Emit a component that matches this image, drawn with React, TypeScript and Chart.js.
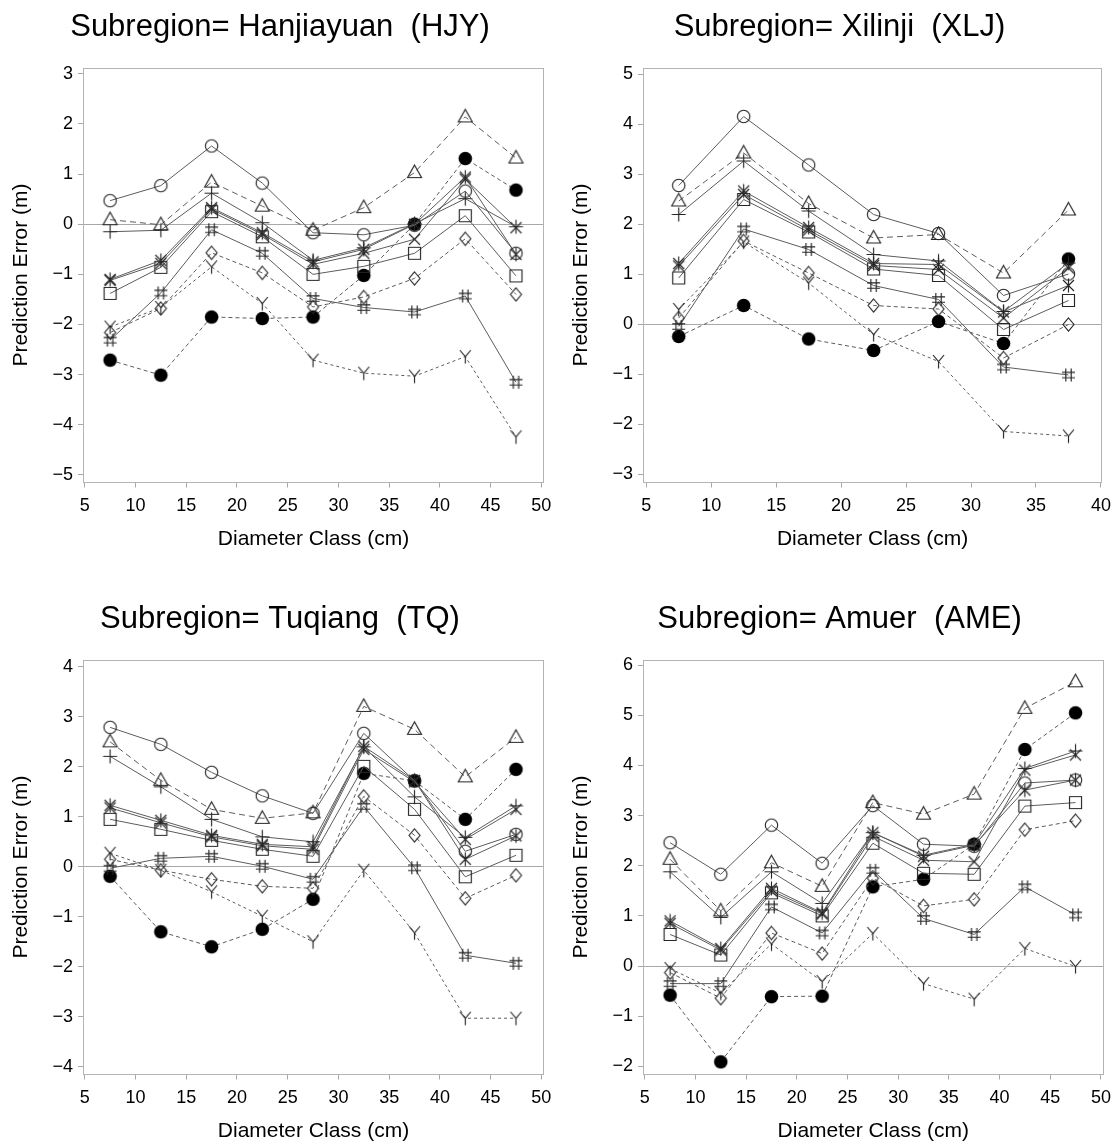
import React, { useEffect, useRef } from 'react';
import { Chart, registerables } from 'chart.js';

Chart.register(...registerables);

const FONT = "'Liberation Sans', Arial, Helvetica, sans-serif";
const LINE = '#5c5c5c';
const MARK = '#262626';
const FRAME = '#b4b4b4';
const REF = '#a8a8a8';

// ---------- categories / ticks ----------
const diameters9 = [7.5, 12.5, 17.5, 22.5, 27.5, 32.5, 37.5, 42.5, 47.5];
const diameters7 = [7.5, 12.5, 17.5, 22.5, 27.5, 32.5, 37.5];
const xTicks50 = [5, 10, 15, 20, 25, 30, 35, 40, 45, 50];
const xTicks40 = [5, 10, 15, 20, 25, 30, 35, 40];
const yTicksHJY = [-5, -4, -3, -2, -1, 0, 1, 2, 3];
const yTicksXLJ = [-3, -2, -1, 0, 1, 2, 3, 4, 5];
const yTicksTQ = [-4, -3, -2, -1, 0, 1, 2, 3, 4];
const yTicksAME = [-2, -1, 0, 1, 2, 3, 4, 5, 6];

// ---------- Hanjiayuan (HJY) ----------
const hjyCircle = [0.47, 0.77, 1.56, 0.82, -0.17, -0.21, -0.02, 0.66, -0.58];
const hjyTriangle = [0.09, -0.01, 0.84, 0.36, -0.12, 0.33, 1.03, 2.14, 1.32];
const hjyPlus = [-0.15, -0.12, 0.62, 0.03, -0.72, -0.47, 0.01, 0.51, -0.05];
const hjyStar = [-1.1, -0.72, 0.33, -0.17, -0.75, -0.5, 0.0, 0.94, -0.6];
const hjyX = [-1.12, -0.78, 0.3, -0.2, -0.8, -0.58, -0.3, 0.9, -0.07];
const hjySquare = [-1.38, -0.86, 0.25, -0.25, -1.0, -0.84, -0.58, 0.17, -1.03];
const hjyDiamond = [-2.16, -1.68, -0.57, -0.97, -1.65, -1.45, -1.08, -0.29, -1.4];
const hjyHash = [-2.31, -1.37, -0.11, -0.58, -1.48, -1.66, -1.75, -1.43, -3.15];
const hjyDot = [-2.71, -3.01, -1.85, -1.88, -1.85, -1.02, 0.0, 1.31, 0.68];
const hjyY = [-2.05, -1.66, -0.85, -1.58, -2.71, -2.97, -3.03, -2.64, -4.24];

// ---------- Xilinji (XLJ) ----------
const xljCircle = [2.77, 4.15, 3.18, 2.19, 1.81, 0.57, 1.0];
const xljTriangle = [2.46, 3.42, 2.41, 1.72, 1.79, 1.02, 2.28];
const xljPlus = [2.19, 3.26, 2.26, 1.39, 1.26, 0.25, 1.22];
const xljStar = [1.21, 2.66, 1.93, 1.21, 1.19, 0.24, 0.77];
const xljX = [1.16, 2.59, 1.88, 1.17, 1.09, 0.12, 1.12];
const xljSquare = [0.92, 2.49, 1.84, 1.1, 0.97, -0.11, 0.47];
const xljDiamond = [0.12, 1.66, 1.02, 0.37, 0.3, -0.68, -0.01];
const xljHash = [-0.05, 1.9, 1.49, 0.77, 0.49, -0.86, -1.02];
const xljDot = [-0.25, 0.37, -0.3, -0.53, 0.05, -0.39, 1.3];
const xljY = [0.29, 1.64, 0.82, -0.21, -0.75, -2.15, -2.24];

// ---------- Tuqiang (TQ) ----------
const tqCircle = [2.79, 2.45, 1.89, 1.42, 1.07, 2.67, 1.72, 0.31, 0.65];
const tqTriangle = [2.5, 1.73, 1.15, 0.97, 1.08, 3.21, 2.75, 1.8, 2.59];
const tqPlus = [2.21, 1.6, 0.95, 0.6, 0.5, 2.4, 1.4, 0.59, 1.22];
const tqStar = [1.23, 0.93, 0.63, 0.45, 0.4, 2.41, 1.73, 0.15, 0.62];
const tqX = [1.18, 0.88, 0.6, 0.42, 0.35, 2.35, 1.7, 0.55, 1.15];
const tqSquare = [0.95, 0.75, 0.53, 0.35, 0.21, 2.01, 1.15, -0.2, 0.23];
const tqDiamond = [0.15, -0.07, -0.25, -0.39, -0.43, 1.41, 0.63, -0.63, -0.17];
const tqHash = [-0.03, 0.17, 0.21, 0.01, -0.25, 1.21, -0.02, -1.77, -1.93];
const tqDot = [-0.19, -1.3, -1.6, -1.25, -0.65, 1.87, 1.72, 0.95, 1.95];
const tqY = [0.27, -0.07, -0.5, -0.99, -1.5, -0.07, -1.32, -3.03, -3.03];

// ---------- Amuer (AME) ----------
const ameCircle = [2.46, 1.83, 2.81, 2.05, 3.2, 2.43, 2.39, 3.65, 3.71];
const ameTriangle = [2.13, 1.1, 2.06, 1.59, 3.26, 3.03, 3.43, 5.14, 5.67];
const amePlus = [1.88, 0.97, 1.88, 1.25, 2.66, 2.21, 2.43, 3.94, 4.29];
const ameStar = [0.9, 0.35, 1.55, 1.06, 2.66, 2.19, 2.41, 3.51, 3.71];
const ameX = [0.85, 0.32, 1.5, 1.04, 2.59, 2.11, 2.08, 3.91, 4.21];
const ameSquare = [0.63, 0.22, 1.46, 1.0, 2.45, 1.85, 1.83, 3.19, 3.26];
const ameDiamond = [-0.13, -0.64, 0.66, 0.25, 1.75, 1.2, 1.33, 2.72, 2.9];
const ameHash = [-0.35, -0.35, 1.18, 0.66, 1.91, 0.95, 0.63, 1.58, 1.02];
const ameDot = [-0.58, -1.91, -0.61, -0.6, 1.58, 1.73, 2.43, 4.32, 5.05];
const ameY = [-0.05, -0.54, 0.44, -0.31, 0.65, -0.35, -0.66, 0.35, -0.01];

// ---------- series styles ----------
const seriesKinds = ['circle', 'triangle', 'plus', 'star', 'x', 'square', 'diamond', 'hash', 'dot', 'y'];
const seriesDash: Record<string, number[]> = {
  circle: [],
  triangle: [6, 4],
  plus: [],
  star: [],
  x: [],
  square: [],
  diamond: [4, 3],
  hash: [],
  dot: [4, 3],
  y: [3, 3],
};

function makeMarker(kind: string): HTMLCanvasElement {
  const s = 19;
  const c = document.createElement('canvas');
  c.width = s;
  c.height = s;
  const g = c.getContext('2d') as CanvasRenderingContext2D;
  const m = s / 2;
  g.strokeStyle = MARK;
  g.fillStyle = '#000';
  g.lineWidth = 1.15;
  g.beginPath();
  switch (kind) {
    case 'circle':
      g.arc(m, m, 6.2, 0, Math.PI * 2);
      g.stroke();
      break;
    case 'dot':
      g.arc(m, m, 6.8, 0, Math.PI * 2);
      g.fill();
      break;
    case 'triangle':
      g.moveTo(m, m - 7.5);
      g.lineTo(m + 7, m + 5);
      g.lineTo(m - 7, m + 5);
      g.closePath();
      g.stroke();
      break;
    case 'square':
      g.rect(m - 6, m - 6, 12, 12);
      g.stroke();
      break;
    case 'diamond':
      g.moveTo(m, m - 6.5);
      g.lineTo(m + 5.5, m);
      g.lineTo(m, m + 6.5);
      g.lineTo(m - 5.5, m);
      g.closePath();
      g.stroke();
      break;
    case 'plus':
      g.moveTo(m - 7, m);
      g.lineTo(m + 7, m);
      g.moveTo(m, m - 7);
      g.lineTo(m, m + 7);
      g.stroke();
      break;
    case 'x':
      g.moveTo(m - 5.5, m - 5.5);
      g.lineTo(m + 5.5, m + 5.5);
      g.moveTo(m + 5.5, m - 5.5);
      g.lineTo(m - 5.5, m + 5.5);
      g.stroke();
      break;
    case 'star':
      g.moveTo(m, m - 7);
      g.lineTo(m, m + 7);
      g.moveTo(m - 5.5, m - 5.5);
      g.lineTo(m + 5.5, m + 5.5);
      g.moveTo(m + 5.5, m - 5.5);
      g.lineTo(m - 5.5, m + 5.5);
      g.stroke();
      break;
    case 'hash':
      g.moveTo(m - 2.7, m - 6.5);
      g.lineTo(m - 2.7, m + 6.5);
      g.moveTo(m + 2.7, m - 6.5);
      g.lineTo(m + 2.7, m + 6.5);
      g.moveTo(m - 6.5, m - 2.7);
      g.lineTo(m + 6.5, m - 2.7);
      g.moveTo(m - 6.5, m + 2.7);
      g.lineTo(m + 6.5, m + 2.7);
      g.stroke();
      break;
    case 'y':
      g.moveTo(m - 5.5, m - 6.5);
      g.lineTo(m, m);
      g.lineTo(m + 5.5, m - 6.5);
      g.moveTo(m, m);
      g.lineTo(m, m + 7);
      g.stroke();
      break;
  }
  return c;
}

interface PanelDef {
  title: string;
  xs: number[];
  xMin: number;
  xMax: number;
  xTicks: number[];
  yMin: number;
  yMax: number;
  yTicks: number[];
  series: Record<string, number[]>;
  width: number;
  rightPad: number;
}

const panels: { def: PanelDef; left: number; top: number }[] = [
  {
    left: 0,
    top: 0,
    def: {
      title: 'Subregion= Hanjiayuan  (HJY)',
      xs: diameters9,
      xMin: 4.83,
      xMax: 50.26,
      xTicks: xTicks50,
      yMin: -5.15,
      yMax: 3.125,
      yTicks: yTicksHJY,
      series: {
        circle: hjyCircle, triangle: hjyTriangle, plus: hjyPlus, star: hjyStar, x: hjyX,
        square: hjySquare, diamond: hjyDiamond, hash: hjyHash, dot: hjyDot, y: hjyY,
      },
      width: 560,
      rightPad: 16,
    },
  },
  {
    left: 560,
    top: 0,
    def: {
      title: 'Subregion= Xilinji  (XLJ)',
      xs: diameters7,
      xMin: 4.75,
      xMax: 40.1,
      xTicks: xTicks40,
      yMin: -3.17,
      yMax: 5.13,
      yTicks: yTicksXLJ,
      series: {
        circle: xljCircle, triangle: xljTriangle, plus: xljPlus, star: xljStar, x: xljX,
        square: xljSquare, diamond: xljDiamond, hash: xljHash, dot: xljDot, y: xljY,
      },
      width: 559,
      rightPad: 15,
    },
  },
  {
    left: 0,
    top: 592,
    def: {
      title: 'Subregion= Tuqiang  (TQ)',
      xs: diameters9,
      xMin: 4.83,
      xMax: 50.26,
      xTicks: xTicks50,
      yMin: -4.156,
      yMax: 4.148,
      yTicks: yTicksTQ,
      series: {
        circle: tqCircle, triangle: tqTriangle, plus: tqPlus, star: tqStar, x: tqX,
        square: tqSquare, diamond: tqDiamond, hash: tqHash, dot: tqDot, y: tqY,
      },
      width: 560,
      rightPad: 16,
    },
  },
  {
    left: 560,
    top: 592,
    def: {
      title: 'Subregion= Amuer  (AME)',
      xs: diameters9,
      xMin: 4.83,
      xMax: 50.26,
      xTicks: xTicks50,
      yMin: -2.163,
      yMax: 6.114,
      yTicks: yTicksAME,
      series: {
        circle: ameCircle, triangle: ameTriangle, plus: amePlus, star: ameStar, x: ameX,
        square: ameSquare, diamond: ameDiamond, hash: ameHash, dot: ameDot, y: ameY,
      },
      width: 559,
      rightPad: 15,
    },
  },
];

const CANVAS_H = 552;
const PLOT_LEFT = 83;
const PLOT_BOTTOM = 482.5;

const framePlugin = {
  id: 'frameBox',
  beforeDatasetsDraw(chart: any) {
    const { ctx, chartArea } = chart;
    const l = Math.round(chartArea.left) + 0.5;
    const t = Math.round(chartArea.top) + 0.5;
    const r = Math.round(chartArea.right) - 0.5;
    const b = Math.round(chartArea.bottom) - 0.5;
    ctx.save();
    ctx.strokeStyle = FRAME;
    ctx.lineWidth = 1;
    ctx.strokeRect(l, t, r - l, b - t);
    ctx.restore();
  },
};

const fmt = (v: number) => String(v).replace('-', '\u2212');

function Panel({ def }: { def: PanelDef }) {
  const ref = useRef<HTMLCanvasElement | null>(null);
  useEffect(() => {
    if (!ref.current) return;
    const datasets = seriesKinds.map((k) => ({
      label: k,
      data: def.xs.map((x, i) => ({ x, y: def.series[k][i] })),
      borderColor: LINE,
      borderWidth: 1,
      borderDash: seriesDash[k],
      pointStyle: makeMarker(k) as any,
      pointRadius: 7,
      pointHoverRadius: 7,
      fill: false,
      tension: 0,
      showLine: true,
      clip: false as any,
    }));
    const chart = new Chart(ref.current, {
      type: 'line',
      data: { datasets },
      plugins: [framePlugin],
      options: {
        animation: false,
        responsive: false,
        events: [],
        layout: { padding: { left: 0, right: 0, top: 0, bottom: 0 } },
        plugins: {
          legend: { display: false },
          tooltip: { enabled: false },
          title: {
            display: true,
            text: def.title,
            color: '#000',
            font: { family: FONT, size: 31, weight: 'normal', lineHeight: 1.2 },
            padding: { top: 8.5, bottom: 21.8 },
          },
        },
        scales: {
          x: {
            type: 'linear',
            min: def.xMin,
            max: def.xMax,
            afterBuildTicks: (s: any) => {
              s.ticks = def.xTicks.map((v) => ({ value: v }));
            },
            afterFit: (s: any) => {
              s.height = CANVAS_H - PLOT_BOTTOM;
            },
            ticks: {
              color: '#000',
              font: { family: FONT, size: 18, lineHeight: 1.2 },
              padding: 8,
              maxRotation: 0,
              autoSkip: false,
              callback: (v: any) => fmt(Number(v)),
            },
            grid: {
              drawOnChartArea: false,
              drawTicks: true,
              tickLength: 5,
              tickColor: REF,
              color: REF,
            },
            border: { display: false },
            title: {
              display: true,
              text: 'Diameter Class (cm)',
              color: '#000',
              font: { family: FONT, size: 21, lineHeight: 1.2 },
              padding: { top: 0, bottom: 0 },
            },
          },
          y: {
            type: 'linear',
            min: def.yMin,
            max: def.yMax,
            afterBuildTicks: (s: any) => {
              s.ticks = def.yTicks.map((v) => ({ value: v }));
            },
            afterFit: (s: any) => {
              s.width = PLOT_LEFT;
            },
            ticks: {
              color: '#000',
              font: { family: FONT, size: 18, lineHeight: 1.2 },
              padding: 5,
              autoSkip: false,
              callback: (v: any) => fmt(Number(v)),
            },
            grid: {
              drawOnChartArea: true,
              drawTicks: true,
              tickLength: 5,
              tickColor: REF,
              color: (ctx: any) => (ctx.tick && ctx.tick.value === 0 ? REF : 'rgba(0,0,0,0)'),
            },
            border: { display: false },
            title: {
              display: true,
              text: 'Prediction Error (m)',
              color: '#000',
              font: { family: FONT, size: 21, lineHeight: 1.2 },
              padding: { top: 9, bottom: 0 },
            },
          },
          yPad: {
            type: 'linear',
            position: 'right',
            display: true,
            grid: { display: false, drawTicks: false },
            ticks: { display: false },
            border: { display: false },
            afterFit: (s: any) => {
              s.width = def.rightPad;
            },
          },
        },
      } as any,
    });
    return () => chart.destroy();
  }, [def]);
  return <canvas ref={ref} width={def.width} height={CANVAS_H} style={{ display: 'block', width: def.width, height: CANVAS_H }} />;
}

export default function App() {
  return (
    <div style={{ position: 'absolute', left: 0, top: 0, width: 1119, height: 1144, background: '#fff' }}>
      {panels.map((p, i) => (
        <div key={i} style={{ position: 'absolute', left: p.left, top: p.top }}>
          <Panel def={p.def} />
        </div>
      ))}
    </div>
  );
}
